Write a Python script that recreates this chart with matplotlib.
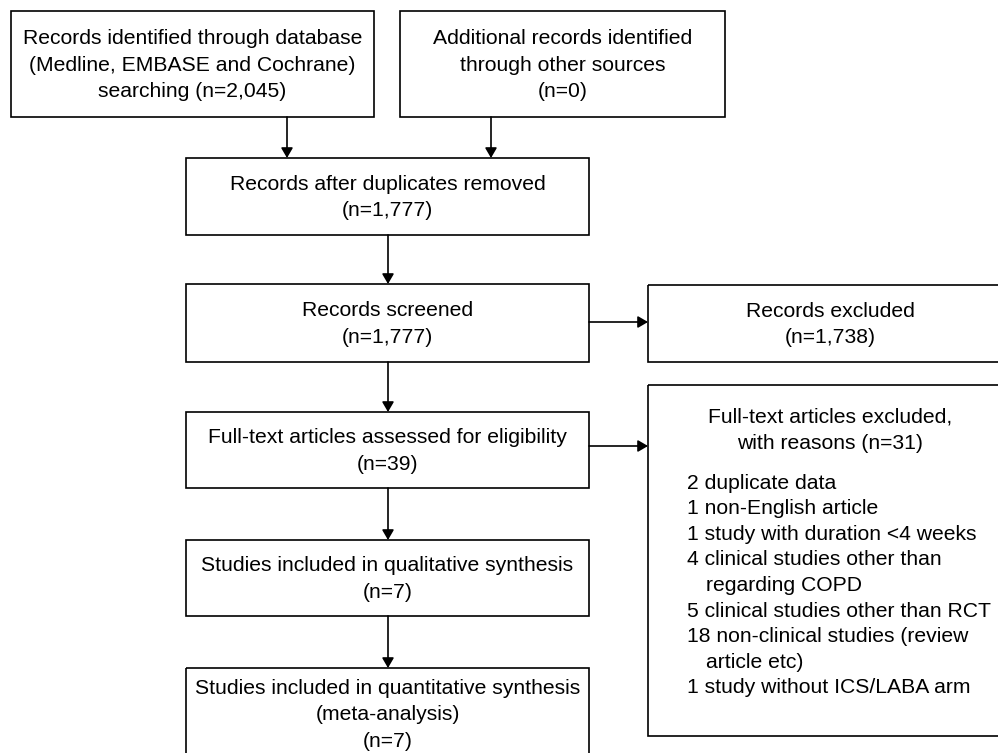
import matplotlib
matplotlib.use("Agg")
import matplotlib.pyplot as plt
from matplotlib.patches import Rectangle, FancyArrowPatch

plt.rcParams['font.family'] = ['Liberation Sans', 'DejaVu Sans']

# ---- data (box texts) ----
identified_text = "Records identified through database\n(Medline, EMBASE and Cochrane)\nsearching (n=2,045)"
other_text = "Additional records identified\nthrough other sources\n(n=0)"
dedup_text = "Records after duplicates removed\n(n=1,777)"
screened_text = "Records screened\n(n=1,777)"
excluded_text = "Records excluded\n(n=1,738)"
fulltext_text = "Full-text articles assessed for eligibility\n(n=39)"
qual_text = "Studies included in qualitative synthesis\n(n=7)"
quant_text = "Studies included in quantitative synthesis\n(meta-analysis)\n(n=7)"
ft_excl_header = "Full-text articles excluded,\nwith reasons (n=31)"
ft_excl_reasons = [
    ["2 duplicate data"],
    ["1 non-English article"],
    ["1 study with duration <4 weeks"],
    ["4 clinical studies other than", "regarding COPD"],
    ["5 clinical studies other than RCT"],
    ["18 non-clinical studies (review", "article etc)"],
    ["1 study without ICS/LABA arm"],
]

W, H = 998, 753
fig = plt.figure(figsize=(W / 100, H / 100), dpi=100)
ax = fig.add_axes([0, 0, 1, 1])
ax.set_xlim(0, W)
ax.set_ylim(H, 0)
ax.axis('off')

FS = 15.2
LW = 1.2
LS = 1.5


def box(x0, y0, x1, y1, text=None, tx=None):
    ax.add_patch(Rectangle((x0, y0), x1 - x0, y1 - y0, fill=False,
                           edgecolor='black', linewidth=LW))
    if text is not None:
        cx = (x0 + x1) / 2 if tx is None else tx
        ax.text(cx, (y0 + y1) / 2 + 1, text, ha='center', va='center',
                fontsize=FS, linespacing=LS, color='black')


def arrow(x0, y0, x1, y1):
    ax.add_patch(FancyArrowPatch((x0, y0), (x1, y1),
                                 arrowstyle='-|>,head_length=0.6,head_width=0.35',
                                 mutation_scale=10, color='black',
                                 linewidth=LW, shrinkA=0, shrinkB=0))


# top boxes
box(11, 11, 374, 117, identified_text)
box(400, 11, 725, 117, other_text)
# main column
box(186, 158, 589, 235, dedup_text)
box(186, 284, 589, 362, screened_text)
box(186, 412, 589, 488, fulltext_text)
box(186, 540, 589, 616, qual_text)
box(186, 668, 589, 760, quant_text)
# right column
box(648, 285, 1012, 362, excluded_text)
box(648, 385, 1012, 736)
ax.text(830, 430, ft_excl_header, ha='center', va='center',
        fontsize=FS, linespacing=LS)
y = 483
for item in ft_excl_reasons:
    for j, line in enumerate(item):
        ax.text(687 if j == 0 else 706, y, line, ha='left', va='center',
                fontsize=FS)
        y += 25.6

# arrows
arrow(287, 117, 287, 158)
arrow(491, 117, 491, 158)
arrow(388, 235, 388, 284)
arrow(388, 362, 388, 412)
arrow(388, 488, 388, 540)
arrow(388, 616, 388, 668)
arrow(589, 322, 648, 322)
arrow(589, 446, 648, 446)

fig.savefig('out.png', dpi=100, facecolor='white')
